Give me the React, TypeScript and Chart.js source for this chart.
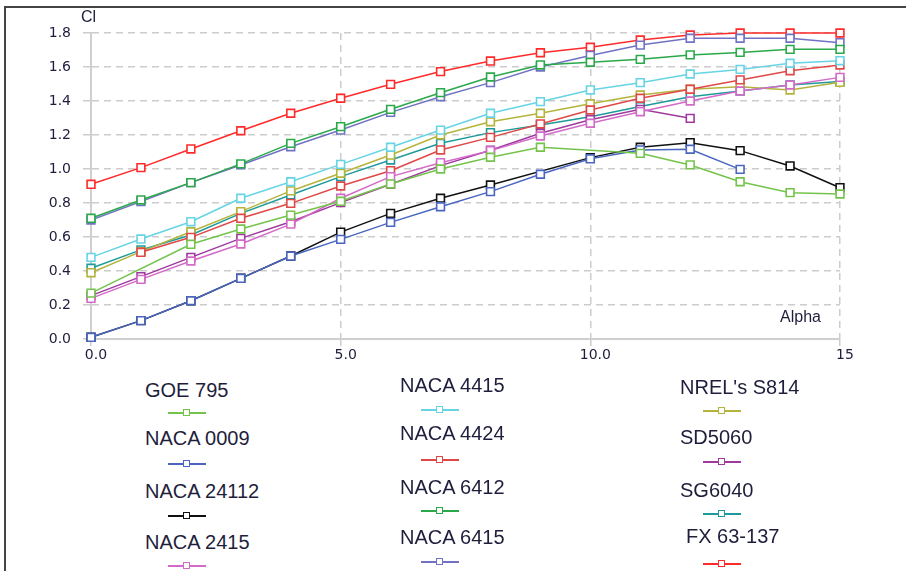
import React, { useEffect, useRef } from "react";
import { Chart, registerables } from "chart.js";

Chart.register(...registerables);

const ALPHA = [0, 1, 2, 3, 4, 5, 6, 7, 8, 9, 10, 11, 12, 13, 14, 15];
const X_TICK_LABELS: Record<number, string> = { 0: "0.0", 5: "5.0", 10: "10.0", 15: "15" };

const GOE_795 = [0.27, null, 0.557, 0.647, 0.729, 0.81, 0.912, 1.0, 1.069, 1.128, null, 1.092, 1.024, 0.925, 0.861, 0.853];
const NACA_0009 = [0.01, 0.108, 0.225, 0.357, 0.488, 0.586, 0.686, 0.778, 0.867, 0.969, 1.06, 1.112, 1.116, 0.998, null, null];
const NACA_24112 = [0.01, 0.108, 0.225, 0.357, 0.488, 0.629, 0.739, 0.828, 0.906, null, 1.067, 1.128, 1.155, 1.108, 1.018, 0.89];
const NACA_2415 = [0.239, 0.351, 0.459, 0.559, 0.676, 0.828, 0.955, 1.037, 1.108, 1.194, 1.269, 1.337, 1.4, 1.459, 1.494, 1.539];
const NACA_4415 = [0.48, 0.588, 0.69, 0.828, 0.925, 1.027, 1.128, 1.229, 1.328, 1.396, 1.465, 1.508, 1.559, 1.586, 1.622, 1.637];
const NACA_4424 = [null, 0.51, 0.598, 0.71, 0.798, 0.9, 0.99, 1.112, 1.186, 1.265, 1.347, 1.416, 1.469, 1.524, 1.578, 1.612];
const NACA_6412 = [0.71, 0.818, 0.92, 1.03, 1.151, 1.249, 1.351, 1.449, 1.541, 1.612, 1.628, 1.645, 1.671, 1.686, 1.704, 1.704];
const NACA_6415 = [0.7, 0.808, 0.92, 1.024, 1.131, 1.229, 1.333, 1.425, 1.508, 1.6, 1.668, 1.729, 1.769, 1.769, 1.769, 1.743];
const NREL_S814 = [0.39, 0.514, 0.631, 0.749, 0.871, 0.975, 1.082, 1.2, 1.278, 1.328, 1.384, 1.435, 1.469, 1.484, 1.465, 1.51];
const SD5060 = [0.255, 0.367, 0.48, 0.592, 0.69, 0.802, 0.91, 1.02, 1.11, 1.21, 1.29, 1.351, 1.298, null, null, null];
const SG6040 = [0.416, 0.524, 0.612, 0.739, 0.847, 0.955, 1.053, 1.151, 1.214, 1.259, 1.308, 1.367, 1.425, 1.459, 1.494, 1.514];
const FX_63_137 = [0.91, 1.008, 1.118, 1.225, 1.328, 1.416, 1.498, 1.573, 1.635, 1.684, 1.716, 1.759, 1.788, 1.8, 1.8, 1.8];

const SERIES_NAMES = [
  "GOE 795", "NACA 0009", "NACA 24112", "NACA 2415",
  "NACA 4415", "NACA 4424", "NACA 6412", "NACA 6415",
  "NREL's S814", "SD5060", "SG6040", "FX 63-137",
];
const SERIES_VALUES = [
  GOE_795, NACA_0009, NACA_24112, NACA_2415,
  NACA_4415, NACA_4424, NACA_6412, NACA_6415,
  NREL_S814, SD5060, SG6040, FX_63_137,
];
const SERIES_COLORS = [
  "#74c44c", "#4a66c0", "#111111", "#d46ac8",
  "#66d4e4", "#e04848", "#2aa84a", "#7272c4",
  "#b4b43c", "#9e3a9e", "#1f9a9a", "#ff2a2a",
];

// legend layout: [textLeft, textCenterY, sampleCenterX, sampleY]
const LEGEND_POS = [
  [145, 390, 187, 413], [145, 438, 187, 464], [145, 491, 187, 516], [145, 542, 187, 566],
  [400, 385, 440, 410], [400, 433, 440, 460], [400, 487, 440, 511], [400, 537, 440, 562],
  [680, 387, 722, 411], [680, 437, 722, 462], [680, 490, 722, 514], [686, 536, 722, 564],
];

const TEXT_COLOR = "#1e1e3c";
const GRID_COLOR = "#cccccc";

export default function App() {
  const ref = useRef<HTMLCanvasElement | null>(null);

  useEffect(() => {
    if (!ref.current) return;
    const datasets = SERIES_NAMES.map((name, i) => ({
      label: name,
      data: ALPHA.map((a, j) => ({ x: a, y: SERIES_VALUES[i][j] })),
      borderColor: SERIES_COLORS[i],
      backgroundColor: "#ffffff",
      borderWidth: 1.5,
      pointStyle: "rect",
      pointRadius: 5.5,
      pointBorderWidth: 1.6,
      pointBackgroundColor: "#ffffff",
      pointBorderColor: SERIES_COLORS[i],
      spanGaps: true,
      tension: 0,
      clip: false as any,
    }));
    const chart = new Chart(ref.current, {
      type: "line",
      data: { datasets: datasets as any },
      options: {
        animation: false,
        responsive: false,
        maintainAspectRatio: false,
        layout: { padding: { left: 0, top: 33, right: 66, bottom: 6 } },
        plugins: { legend: { display: false }, tooltip: { enabled: false } },
        scales: {
          x: {
            type: "linear",
            min: 0,
            max: 15,
            afterFit: (s: any) => { s.height = 30; },
            ticks: {
              stepSize: 5,
              padding: 1,
              labelOffset: 5,
              color: TEXT_COLOR,
              font: { family: "DejaVu Sans", size: 14 },
              callback: (v: any) => X_TICK_LABELS[v as number] ?? "",
              maxRotation: 0,
            },
            grid: {
              color: GRID_COLOR,
              lineWidth: 1.5,
              tickLength: 7,
              tickBorderDash: [7, 5],
            },
            border: { display: true, color: "#cfcfcf", width: 2, dash: [7, 5] },
          },
          y: {
            min: 0,
            max: 1.8,
            afterFit: (s: any) => { s.width = 91; },
            ticks: {
              stepSize: 0.2,
              padding: 12,
              color: TEXT_COLOR,
              font: { family: "DejaVu Sans", size: 14 },
              callback: (v: any) => (v as number).toFixed(1),
            },
            grid: {
              color: GRID_COLOR,
              lineWidth: 1.5,
              tickLength: 8,
              tickBorderDash: [7, 5],
            },
            border: { display: true, color: "#cfcfcf", width: 2, dash: [7, 5] },
          },
        },
      },
    });
    return () => chart.destroy();
  }, []);

  return (
    <div style={{ position: "absolute", left: 0, top: 0, width: 906, height: 571, background: "#ffffff", overflow: "hidden" }}>
      <div style={{ position: "absolute", left: 4, top: 6, width: 902, height: 2, background: "#444" }} />
      <div style={{ position: "absolute", left: 4, top: 6, width: 2, height: 565, background: "#444" }} />
      <canvas ref={ref} width={906} height={375} style={{ position: "absolute", left: 0, top: 0, width: 906, height: 375 }} />
      <div style={{ position: "absolute", left: 81, top: 8, font: "16px 'Liberation Sans', sans-serif", color: TEXT_COLOR }}>Cl</div>
      <div style={{ position: "absolute", left: 780, top: 308, font: "16px 'Liberation Sans', sans-serif", color: TEXT_COLOR }}>Alpha</div>
      {SERIES_NAMES.map((name, i) => {
        const [tx, ty, sx, sy] = LEGEND_POS[i];
        return (
          <React.Fragment key={name}>
            <div style={{ position: "absolute", left: tx, top: ty - 11, lineHeight: "22px", whiteSpace: "nowrap", font: "20px 'Liberation Sans', sans-serif", color: TEXT_COLOR }}>{name}</div>
            <div style={{ position: "absolute", left: sx - 19, top: sy - 1, width: 38, height: 2, background: SERIES_COLORS[i] }} />
            <div style={{ position: "absolute", left: sx - 4, top: sy - 4, width: 5, height: 5, border: `1.5px solid ${SERIES_COLORS[i]}`, background: "#fff" }} />
          </React.Fragment>
        );
      })}
    </div>
  );
}
